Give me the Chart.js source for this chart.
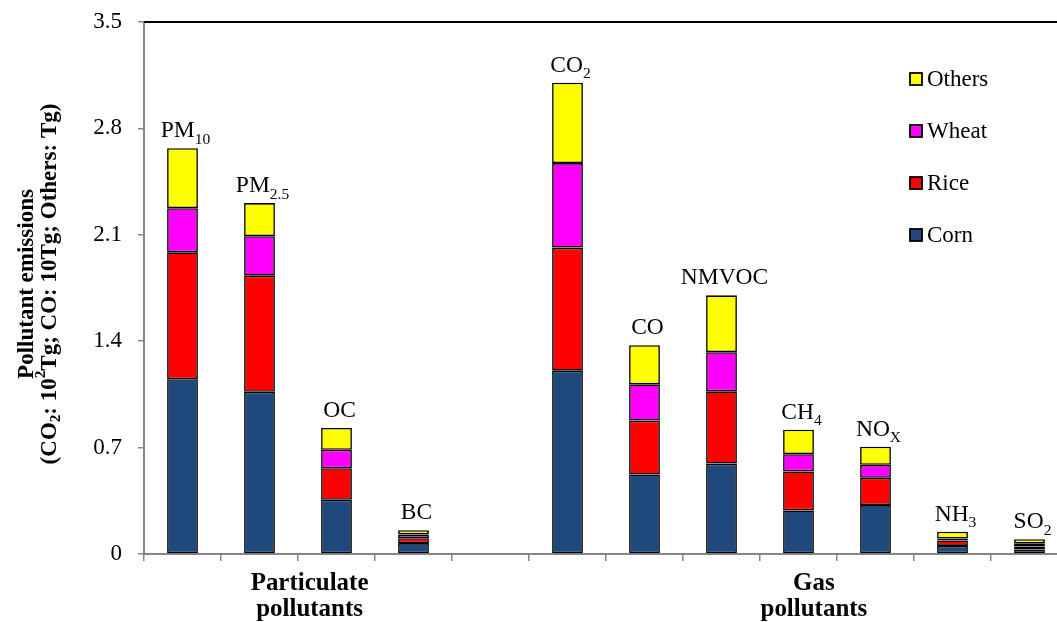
<!DOCTYPE html>
<html>
<head>
<meta charset="utf-8">
<script src="https://cdn.jsdelivr.net/npm/chart.js@4.4.1/dist/chart.umd.min.js"></script>
<style>
  html, body { margin: 0; padding: 0; overflow: hidden; background: #fff; }
  #wrap { width: 1070px; height: 622px; }
</style>
</head>
<body>
<div id="wrap"><canvas id="c" width="1070" height="622"></canvas></div>
<script>
// Pollutant categories (one empty slot separates particulate and gas pollutants)
const categories = ['PM10', 'PM2.5', 'OC', 'BC', '', 'CO2', 'CO', 'NMVOC', 'CH4', 'NOx', 'NH3', 'SO2'];
const labelMain  = ['PM', 'PM', 'OC', 'BC', '', 'CO', 'CO', 'NMVOC', 'CH', 'NO', 'NH', 'SO'];
const labelSub   = ['10', '2.5', '', '', '', '2', '', '', '4', 'X', '3', '2'];

// Emissions by crop residue type (CO2: 10^2 Tg; CO: 10 Tg; others: Tg)
const corn   = [1.150, 1.067, 0.357, 0.072, null, 1.206, 0.523, 0.595, 0.287, 0.322, 0.053, 0.030];
const rice   = [0.835, 0.764, 0.207, 0.032, null, 0.810, 0.355, 0.475, 0.256, 0.179, 0.036, 0.020];
const wheat  = [0.290, 0.260, 0.122, 0.025, null, 0.556, 0.238, 0.258, 0.114, 0.086, 0.013, 0.020];
const others = [0.395, 0.218, 0.143, 0.028, null, 0.529, 0.258, 0.374, 0.161, 0.119, 0.045, 0.027];

const yTicks = [0, 0.7, 1.4, 2.1, 2.8, 3.5];
const groupNames = [['Particulate', 'pollutants'], ['Gas', 'pollutants']];
const groupCenters = [1.65, 8.2];

const SERIF = '"Liberation Serif", "Times New Roman", serif';
const AXIS_GRAY = '#868686';

function richWidth(ctx, parts, size, weight) {
  let w = 0;
  for (const p of parts) {
    const s = (p.sub || p.sup) ? size * 0.66 : size;
    ctx.font = `${weight} ${s}px ${SERIF}`;
    w += ctx.measureText(p.t).width;
  }
  return w;
}
function drawRich(ctx, parts, x, y, size, weight) {
  let cx = x - richWidth(ctx, parts, size, weight) / 2;
  for (const p of parts) {
    const s = (p.sub || p.sup) ? size * 0.66 : size;
    ctx.font = `${weight} ${s}px ${SERIF}`;
    const dy = p.sub ? size * 0.28 : (p.sup ? -size * 0.38 : 0);
    ctx.fillText(p.t, cx, y + dy);
    cx += ctx.measureText(p.t).width;
  }
}

const decorations = {
  id: 'decorations',
  afterDatasetsDraw(chart) {
    const ctx = chart.ctx;
    const area = chart.chartArea;
    const top = chart.getDatasetMeta(chart.data.datasets.length - 1);
    ctx.save();
    ctx.fillStyle = '#000';
    ctx.textAlign = 'left';
    ctx.textBaseline = 'alphabetic';
    // labels above each stacked bar
    categories.forEach((c, i) => {
      if (!labelMain[i]) return;
      const el = top.data[i];
      const parts = [{ t: labelMain[i] }];
      if (labelSub[i]) parts.push({ t: labelSub[i], sub: true });
      drawRich(ctx, parts, el.x + 3, el.y - 11, 23.5, 'normal');
    });
    // frame line along the top of the plot
    ctx.strokeStyle = '#000';
    ctx.lineWidth = 2;
    ctx.beginPath();
    ctx.moveTo(area.left, area.top);
    ctx.lineTo(area.right, area.top);
    ctx.stroke();
    ctx.restore();
  },
  afterDraw(chart) {
    const ctx = chart.ctx;
    const xs = chart.scales.x;
    ctx.save();
    ctx.fillStyle = '#000';
    ctx.textAlign = 'left';
    ctx.textBaseline = 'middle';
    // group labels under the category axis
    groupNames.forEach((lines, g) => {
      const cx = xs.getPixelForValue(groupCenters[g]);
      lines.forEach((ln, k) => {
        ctx.save();
        ctx.translate(cx, 583 + k * 26);
        ctx.scale(0.96, 1);
        drawRich(ctx, [{ t: ln }], 0, 0, 26, 'bold');
        ctx.restore();
      });
    });
    // y-axis title, two rotated lines
    const t1 = [{ t: 'Pollutant emissions' }];
    const t2 = [{ t: '(CO' }, { t: '2', sub: true }, { t: ': 10' }, { t: '2', sup: true },
                { t: 'Tg; CO: 10Tg; Others: Tg)' }];
    [[t1, 27], [t2, 50]].forEach(([parts, x]) => {
      ctx.save();
      ctx.translate(x, 284);
      ctx.rotate(-Math.PI / 2);
      drawRich(ctx, parts, 0, 0, 23, 'bold');
      ctx.restore();
    });
    // legend, top series first
    const ds = chart.data.datasets.slice().reverse();
    ds.forEach((d, k) => {
      const y = 79 + k * 52;
      ctx.fillStyle = d.backgroundColor;
      ctx.fillRect(910, y - 6, 12, 12);
      ctx.strokeStyle = '#000';
      ctx.lineWidth = 1.8;
      ctx.strokeRect(910, y - 6, 12, 12);
      ctx.fillStyle = '#000';
      ctx.font = `23px ${SERIF}`;
      ctx.fillText(d.label, 927, y + 1);
    });
    ctx.restore();
  }
};

const mk = (label, data, color) => ({
  label, data, backgroundColor: color, borderColor: '#000', borderWidth: 1.6,
  borderSkipped: false, barPercentage: 0.4, categoryPercentage: 1.0
});

new Chart(document.getElementById('c'), {
  type: 'bar',
  data: {
    labels: categories,
    datasets: [
      mk('Corn', corn, '#1F497D'),
      mk('Rice', rice, '#FF0000'),
      mk('Wheat', wheat, '#FF00FF'),
      mk('Others', others, '#FFFF00')
    ]
  },
  options: {
    responsive: false,
    animation: false,
    layout: { padding: { top: 22, right: 2, bottom: 0, left: 0 } },
    plugins: { legend: { display: false }, tooltip: { enabled: false } },
    scales: {
      x: {
        stacked: true,
        grid: { display: true, drawOnChartArea: false, color: AXIS_GRAY, lineWidth: 1.5, tickLength: 7, offset: true },
        border: { display: true, color: AXIS_GRAY, width: 2 },
        ticks: { display: false },
        afterFit(s) { s.height = 622 - 554; }
      },
      y: {
        stacked: true,
        min: 0, max: 3.5,
        afterBuildTicks(s) { s.ticks = yTicks.map(v => ({ value: v })); },
        grid: { display: true, drawOnChartArea: false, color: AXIS_GRAY, lineWidth: 1.5, tickLength: 6 },
        border: { display: true, color: AXIS_GRAY, width: 2 },
        ticks: {
          color: '#000', padding: 16,
          font: { family: SERIF, size: 23 },
          callback: (v) => String(v)
        },
        afterFit(s) { s.width = 144; s.paddingTop = 0; s.paddingBottom = 0; }
      }
    }
  },
  plugins: [decorations]
});
</script>
</body>
</html>
